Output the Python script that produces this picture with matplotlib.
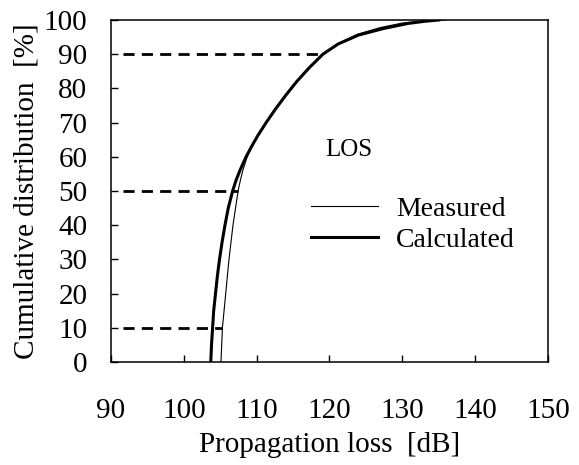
import matplotlib
matplotlib.use("Agg")
import matplotlib.pyplot as plt

# values
calc_loss = [103.7, 103.8, 103.95, 104.1, 104.35, 104.6, 104.9, 105.25, 105.65, 106.1,
             106.7, 107.15, 107.7, 108.55, 109.3, 110.1, 111.3, 112.6, 114.0, 115.5,
             117.2, 119.1, 121.2, 124.0, 127.4, 130.8, 133.0, 135.0]
calc_cdf = [0, 5, 10, 15, 20, 25, 30, 35, 40, 45,
            50, 53, 56, 60, 63, 66, 70, 74, 78, 82,
            86, 90, 93, 95.6, 97.5, 99, 99.6, 100]

meas_loss = [105.1, 105.2, 105.3, 105.75, 106.2, 106.75, 107.45, 107.75, 108.1, 108.7,
             109.35, 110.1, 111.3, 112.6, 114.0, 115.5, 117.2, 119.0, 121.1, 123.8,
             127.0, 130.0, 132.5, 134.5, 136.0]
meas_cdf = [0, 5, 10, 20, 30, 40, 50, 53, 56, 60,
            63, 66, 70, 74, 78, 82, 86, 90, 93, 95.8,
            97.8, 99.1, 99.6, 99.9, 100]

# dashed guide levels and where they stop
ref_levels = [10, 50, 90]
ref_ends = [105.3, 107.4, 119.1]
ref_start = 91.7

plt.rcParams['font.family'] = ['Liberation Serif', 'DejaVu Serif']

fig = plt.figure(figsize=(5.79, 4.65), dpi=100)
ax = fig.add_axes([0.1917, 0.2215, 0.7547, 0.7355])

for lvl, end in zip(ref_levels, ref_ends):
    ax.plot([ref_start, end], [lvl, lvl], color='black', lw=2.0,
            dashes=(4, 2.6))

ax.plot(meas_loss, meas_cdf, color='black', lw=0.8, label='Measured')
ax.plot(calc_loss, calc_cdf, color='black', lw=2.2, label='Calculated')

ax.set_xlim(90, 150)
ax.set_ylim(0, 100)
ax.set_xticks(range(90, 151, 10))
ax.set_yticks(range(0, 101, 10))
ax.tick_params(axis='both', direction='in', length=5, width=1, labelsize=21)
ax.tick_params(axis='x', pad=26)
ax.tick_params(axis='y', pad=17)
for s in ax.spines.values():
    s.set_linewidth(1.1)

ax.set_xlabel('Propagation loss  [dB]', fontsize=21, labelpad=6)
ax.set_ylabel('Cumulative distribution  [%]', fontsize=21, labelpad=3)

ax.text(119.4, 62.0, 'LOS', fontsize=18, va='center', ha='left')

ax.legend(loc='upper left', bbox_to_anchor=(0.458, 0.485), frameon=False,
          fontsize=20, handlelength=2.4, handletextpad=0.65,
          labelspacing=0.2, borderpad=0, borderaxespad=0)

fig.savefig('out.png', dpi=100)
